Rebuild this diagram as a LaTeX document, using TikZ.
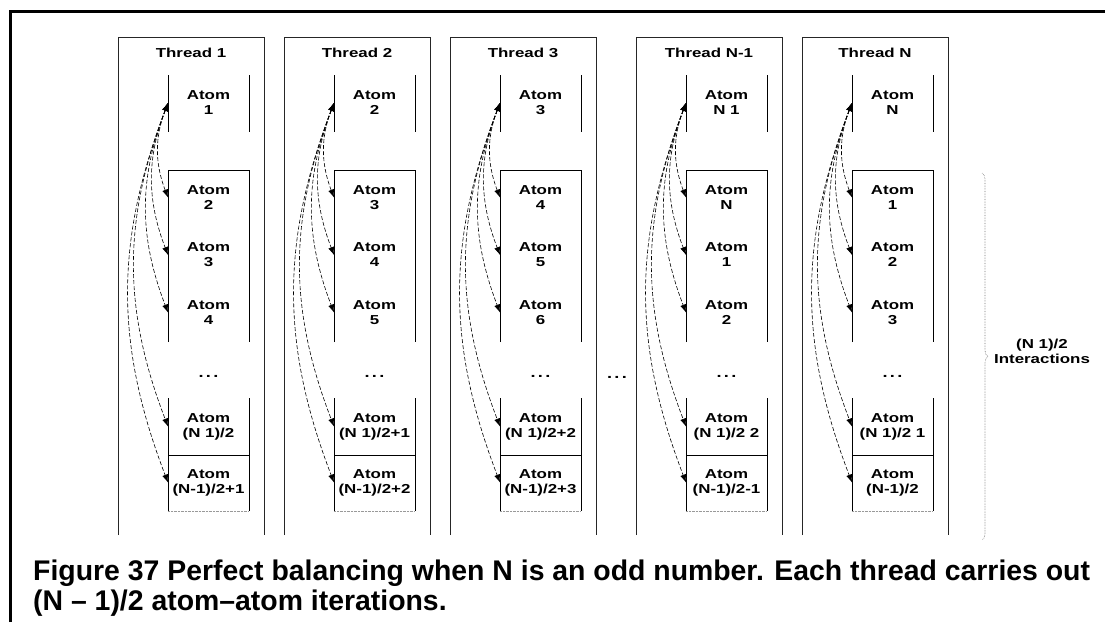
\documentclass[tikz,border=0pt]{standalone}
\usepackage{fontspec}
\setmainfont{Liberation Sans}
\newfontfamily\lblfont[FakeStretch=1.3]{Liberation Sans}
\usetikzlibrary{arrows.meta, positioning, calc, decorations.pathreplacing}
\tikzset{
  thcol/.style={minimum width=146pt, minimum height=498pt, inner sep=0pt, outer sep=0pt},
  thline/.style={line width=1pt, color=black!85},
  thtitle/.style={font=\lblfont\bfseries\fontsize{13}{15}\selectfont, anchor=base},
  atomlbl/.style={font=\lblfont\bfseries\fontsize{13}{15}\selectfont, align=center,
                  minimum width=81pt, inner sep=0pt, outer sep=0pt},
  atombar/.style={line width=1pt},
  fan/.style={{Latex[length=8pt,width=6pt]}-{Latex[length=8pt,width=6pt]},
              dash pattern=on 4pt off 2pt, line width=0.6pt, bend right=21},
  dotsl/.style={font=\lblfont\bfseries\fontsize{14}{15}\selectfont, anchor=base},
  bracel/.style={decorate, decoration={brace, amplitude=6pt}, densely dotted,
                 color=black!55, line width=0.6pt},
  caption/.style={font=\bfseries\fontsize{28.4}{30}\selectfont, align=left,
                  anchor=north west, inner sep=0pt},
}
% one thread column: name, title, six atom labels
\newcommand{\fillthread}[8]{%
  \draw[thline] (#1.south west) |- (#1.north east) -- (#1.south east);
  \begin{scope}[shift={(#1.north west)}]
    \node[thtitle] (#1h) at (73,-20) {#2};
    \node[atomlbl] (#1a1) at (90.5,-66) {Atom\\#3};
    \node[atomlbl] (#1a2) at (90.5,-160.5) {Atom\\#4};
    \node[atomlbl] (#1a3) at (90.5,-218) {Atom\\#5};
    \node[atomlbl] (#1a4) at (90.5,-275.5) {Atom\\#6};
    \node[dotsl] (#1d) at (90.5,-340) {.\,.\,.};
    \node[atomlbl] (#1a5) at (90.5,-389.5) {Atom\\#7};
    \node[atomlbl] (#1a6) at (90.5,-445.5) {Atom\\#8};
    \draw[atombar] (50,-38) -- (50,-95) (131,-38) -- (131,-95);
    \draw[atombar] (50,-305) |- (131,-133) -- (131,-305);
    \draw[atombar] (50,-474) -- (50,-361) (131,-361) -- (131,-474);
    \draw[line width=0.8pt] (50,-418) -- (131,-418);
    \draw[densely dotted, black!40] (50,-474) -- (131,-474);
  \end{scope}
  \foreach \k in {2,...,6} \draw[fan] (#1a1.west) to (#1a\k.west);
}

\begin{document}
\begin{tikzpicture}[x=1pt, y=1pt]
  \useasboundingbox (0,0) rectangle (1105,-622);
  \draw[line width=3pt] (10,-622) |- (1105,-11);

  \node[thcol] (t1) at (191,-286) {};
  \node[thcol, right=20pt of t1] (t2) {};
  \node[thcol, right=20pt of t2] (t3) {};
  \node[thcol, right=40pt of t3] (t4) {};
  \node[thcol, right=20pt of t4] (t5) {};

  \fillthread{t1}{Thread 1}{1}{2}{3}{4}{(N 1)/2}{(N-1)/2+1}
  \fillthread{t2}{Thread 2}{2}{3}{4}{5}{(N 1)/2+1}{(N-1)/2+2}
  \fillthread{t3}{Thread 3}{3}{4}{5}{6}{(N 1)/2+2}{(N-1)/2+3}
  \fillthread{t4}{Thread N-1}{N 1}{N}{1}{2}{(N 1)/2 2}{(N-1)/2-1}
  \fillthread{t5}{Thread N}{N}{1}{2}{3}{(N 1)/2 1}{(N-1)/2}

  \node[dotsl] (gap) at (617,-378) {.\,.\,.};

  % interactions brace on the right
  \coordinate (brtop) at (982,-173);
  \coordinate (brbot) at (982,-540);
  \draw[bracel] (brtop) -- (brbot);
  \node[atomlbl, minimum width=0pt] (inter) at (1042,-351) {(N 1)/2\\Interactions};

  \node[caption] (cap) at (33,-560)
    {Figure 37 Perfect balancing when N is an odd number. Each thread carries out\\
     (N -- 1)/2 atom--atom iterations.};
\end{tikzpicture}
\end{document}
